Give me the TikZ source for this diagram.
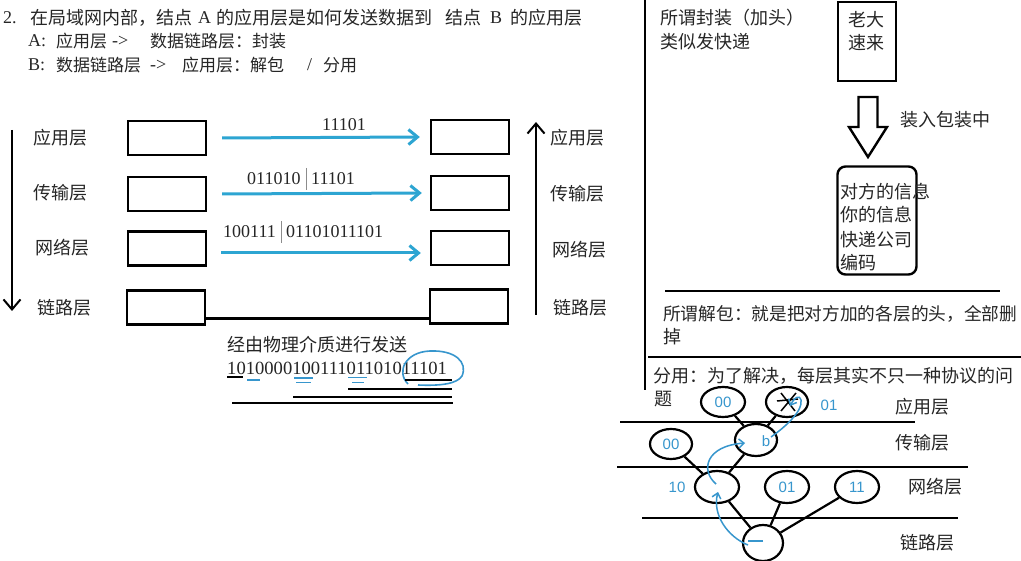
\documentclass[tikz,border=0pt]{standalone}
\usepackage{fontspec}
\setmainfont{Liberation Serif}
\newfontfamily\cjk{Noto Sans CJK SC}
\newfontfamily\hand{Liberation Sans}
\usetikzlibrary{arrows.meta,shapes.geometric}
\definecolor{ablue}{RGB}{45,165,210}
\definecolor{hblue}{RGB}{55,150,205}
\begin{document}
\begin{tikzpicture}[x=1pt,y=-1pt,
  cn/.style={font=\cjk\fontsize{18}{20}\selectfont, inner sep=0pt, anchor=west, text=black!85},
  cns/.style={font=\cjk\fontsize{17}{20}\selectfont, inner sep=0pt, anchor=west, text=black!85},
  sr/.style={font=\fontsize{18}{20}\selectfont, inner sep=0pt, anchor=west, text=black!85},
  num/.style={font=\fontsize{18}{20}\selectfont, inner sep=0pt, anchor=west, text=black!85},
  hw/.style={font=\hand\fontsize{15}{16}\selectfont, inner sep=0pt, text=hblue},
  lbox/.style={draw, line width=2.4pt, minimum width=78pt, minimum height=34pt, inner sep=0pt},
  barrow/.style={draw=ablue, line width=3pt, -{Straight Barb[length=9pt,width=15pt]}},
  karrow/.style={line width=2pt, -{Straight Barb[length=10pt,width=17pt]}},
  sep/.style={draw=black!45, line width=0.8pt},
  thick2/.style={line width=2.3pt},
  ell/.style={draw, ellipse, line width=2.2pt, inner sep=0pt, minimum width=42pt, minimum height=30pt},
  hpath/.style={draw=hblue, line width=1.5pt},
]
\useasboundingbox (0,0) rectangle (1021,561);
\clip (0,0) rectangle (1021,561);
\fill[white] (0,0) rectangle (1021,561);

% ---------- heading ----------
\node[sr] (h1a) at (3,18) {2.};
\node[cn] (h1b) at (30,18) {在局域网内部，结点};
\node[sr] (h1c) at (198,18) {A};
\node[cn] (h1d) at (216,18) {的应用层是如何发送数据到};
\node[cn] (h1e) at (445,18) {结点};
\node[sr] (h1f) at (490,18) {B};
\node[cn] (h1g) at (510,18) {的应用层};
\node[sr] (h2a) at (28,41) {A:};
\node[cns] (h2b) at (56,41) {应用层};
\node[sr] (h2c) at (112,41) {->};
\node[cns] (h2d) at (150,41) {数据链路层：封装};
\node[sr] (h3a) at (28,65) {B:};
\node[cns] (h3b) at (56,65) {数据链路层};
\node[sr] (h3c) at (150,65) {->};
\node[cns] (h3d) at (182,65) {应用层：解包};
\node[sr] (h3e) at (307,65) {/};
\node[cns] (h3f) at (323,65) {分用};

% ---------- left layer stacks ----------
\node[lbox] (L1) at (167,138) {};
\node[lbox] (L2) at (167,194) {};
\node[lbox] (L3) at (167,248.5) {};
\node[lbox] (L4) at (166,307.5) {};
\node[lbox] (R1) at (470,137) {};
\node[lbox] (R2) at (470,193) {};
\node[lbox] (R3) at (470,248) {};
\node[lbox] (R4) at (469,306.5) {};

\node[cn] (la1) at (33,138) {应用层};
\node[cn] (la2) at (33,193) {传输层};
\node[cn] (la3) at (35,248) {网络层};
\node[cn] (la4) at (37,308) {链路层};
\node[cn] (ra1) at (550,138) {应用层};
\node[cn] (ra2) at (550,194) {传输层};
\node[cn] (ra3) at (552,250) {网络层};
\node[cn] (ra4) at (553,308) {链路层};

\coordinate (dtop) at (12,130);
\coordinate (dbot) at (12,311);
\draw[karrow] (dtop) -- (dbot);
\coordinate (utop) at (536,122);
\coordinate (ubot) at (536,315);
\draw[karrow] (ubot) -- (utop);

\draw[barrow] ([xshift=15pt]L1.east) -- ([xshift=-10pt]R1.west);
\draw[barrow] ([xshift=15pt]L2.east) -- ([xshift=-8pt]R2.west);
\draw[barrow] ([xshift=14pt,yshift=-4.5pt]L3.east) -- ([xshift=-9pt,yshift=-5pt]R3.west);

\node[num] (b1) at (322,125) {11101};
\node[num] (b2a) at (247,179) {011010};
\node[num] (b2b) at (311,179) {11101};
\draw[sep] (306,168) -- (306,190);
\node[num] (b3a) at (223,232) {100111};
\node[num] (b3b) at (286,232) {01101011101};
\draw[sep] (281.5,221) -- (281.5,243);

\draw[thick2] ([yshift=-11pt]L4.east) -- ([yshift=-12pt]R4.west);

\node[cn] (phys) at (227,345) {经由物理介质进行发送};
\node[num, font=\fontsize{18.6}{20}\selectfont] (bits) at (227,368) {101000010011101101011101};
\draw[line width=2pt] (227,377) -- (243,377);
\draw[hpath, line width=1.8pt] (247,380) -- (260,380);
\draw[hpath, line width=1.8pt] (294,378) -- (313,378);
\draw[hpath, line width=1.8pt] (296,382.5) -- (311,382.5);
\draw[hpath, line width=1.8pt] (348,377.5) -- (367,377.5);
\draw[hpath, line width=1.8pt] (352,382.5) -- (364,382.5);
\draw[hpath, line width=1.6pt] (408,384) .. controls (396,372) and (405,352) .. (430,351)
   .. controls (455,350) and (468,362) .. (462,376) .. controls (457,384) and (440,386) .. (418,385);
\draw[line width=2pt] (405,380) -- (452,380);
\draw[line width=2.2pt] (348,389) -- (452,389);
\draw[line width=2.2pt] (293,397) -- (452,397);
\draw[line width=2.2pt] (232,403) -- (453,403);

% ---------- right panel ----------
\draw[line width=2.5pt] (645,0) -- (645,390);
\node[cn] (fz1) at (660,18) {所谓封装（加头）};
\node[cn] (fz2) at (660,42) {类似发快递};

\node[draw, line width=2.4pt, minimum width=58pt, minimum height=79pt, inner sep=0pt] (kd) at (867,41.5) {};
\node[cn, anchor=center] (kd1) at (866,20) {老大};
\node[cn, anchor=center] (kd2) at (866,43) {速来};

\draw[line width=2.4pt, line join=miter] (858.5,97) -- (877.5,97) -- (877.5,127) -- (887,127) -- (868,157) -- (849,127) -- (858.5,127) -- cycle;
\node[cn] (zr) at (900,120) {装入包装中};

\node[draw, rounded corners=8pt, line width=2.4pt, minimum width=79pt, minimum height=108pt, inner sep=0pt] (pkg) at (877,220.5) {};
\node[cn] (p1) at (840,192) {对方的信息};
\node[cn] (p2) at (840,215) {你的信息};
\node[cn] (p3) at (840,240) {快递公司};
\node[cn] (p4) at (840,263) {编码};

\draw[line width=2.4pt] (665,291) -- (1000,291);
\node[cn, font=\cjk\fontsize{17.7}{20}\selectfont] (jb1) at (663,314) {所谓解包：就是把对方加的各层的头，全部删};
\node[cn] (jb2) at (663,337) {掉};
\draw[line width=2.4pt] (648,357) -- (1021,357);
\node[cn] (fy1) at (653,376) {分用：为了解决，每层其实不只一种协议的问};
\node[cn] (fy2) at (654,399) {题};

% ---------- demultiplexing tree ----------
\draw[line width=2.2pt] (620,422) -- (915,422);
\draw[line width=2.2pt] (617,467) -- (968,467);
\draw[line width=2.2pt] (642,518) -- (958,518);

\node[ell, minimum width=44pt] (E1) at (723,402) {};
\node[ell] (E2) at (787,402) {};
\node[ell] (E3) at (671,444) {};
\node[ell, minimum height=32pt] (E4) at (756,440) {};
\node[ell, minimum width=44pt, minimum height=32pt] (E5) at (717,487) {};
\node[ell, minimum width=44pt, minimum height=32pt] (E6) at (787,487) {};
\node[ell, minimum width=44pt, minimum height=32pt] (E7) at (857,487) {};
\node[ell, minimum width=40pt, minimum height=36pt] (E8) at (763,543) {};

\draw[line width=2.2pt] (E1) -- (E4);
\draw[line width=2.2pt] (E2) -- (E4);
\draw[line width=2.2pt] (E3) -- (E5);
\draw[line width=2.2pt] (E4) -- (E5);
\draw[line width=2.2pt] (E5) -- (E8);
\draw[line width=2.2pt] (E6) -- (E8);
\draw[line width=2.2pt] (E7) -- (E8);

\node[cn] (ta1) at (895,407) {应用层};
\node[cn] (ta2) at (895,443) {传输层};
\node[cn] (ta3) at (908,487) {网络层};
\node[cn] (ta4) at (900,543) {链路层};

\node[hw] (w1) at (E1) {00};
\node[hw] (w3) at (E3) {00};
\node[hw] (w4) at (766,441) {b};
\node[hw] (w2) at (829,405) {01};
\node[hw] (w5) at (677,487) {10};
\node[hw] (w6) at (E6) {01};
\node[hw] (w7) at (E7) {11};

% scribble in E2
\draw[line width=1.5pt] (777,401) -- (798,399);
\draw[line width=1.5pt] (781,393) -- (795,411);
\draw[line width=1.5pt] (796,393) -- (781,411);

% blue handwritten flow
\draw[hpath] (763,541) -- (748,541);
\draw[hpath, -{Straight Barb[length=5pt,width=9pt]}] (748,545) .. controls (728,537) and (712,515) .. (718,492);
\draw[hpath, -{Straight Barb[length=5pt,width=9pt]}] (716,484) .. controls (700,470) and (706,446) .. (745,443);
\draw[hpath, -{Straight Barb[length=5pt,width=9pt]}] (771,437) .. controls (788,425) and (803,410) .. (801,400) .. controls (799,394) and (794,398) .. (790,406);
\end{tikzpicture}
\end{document}
